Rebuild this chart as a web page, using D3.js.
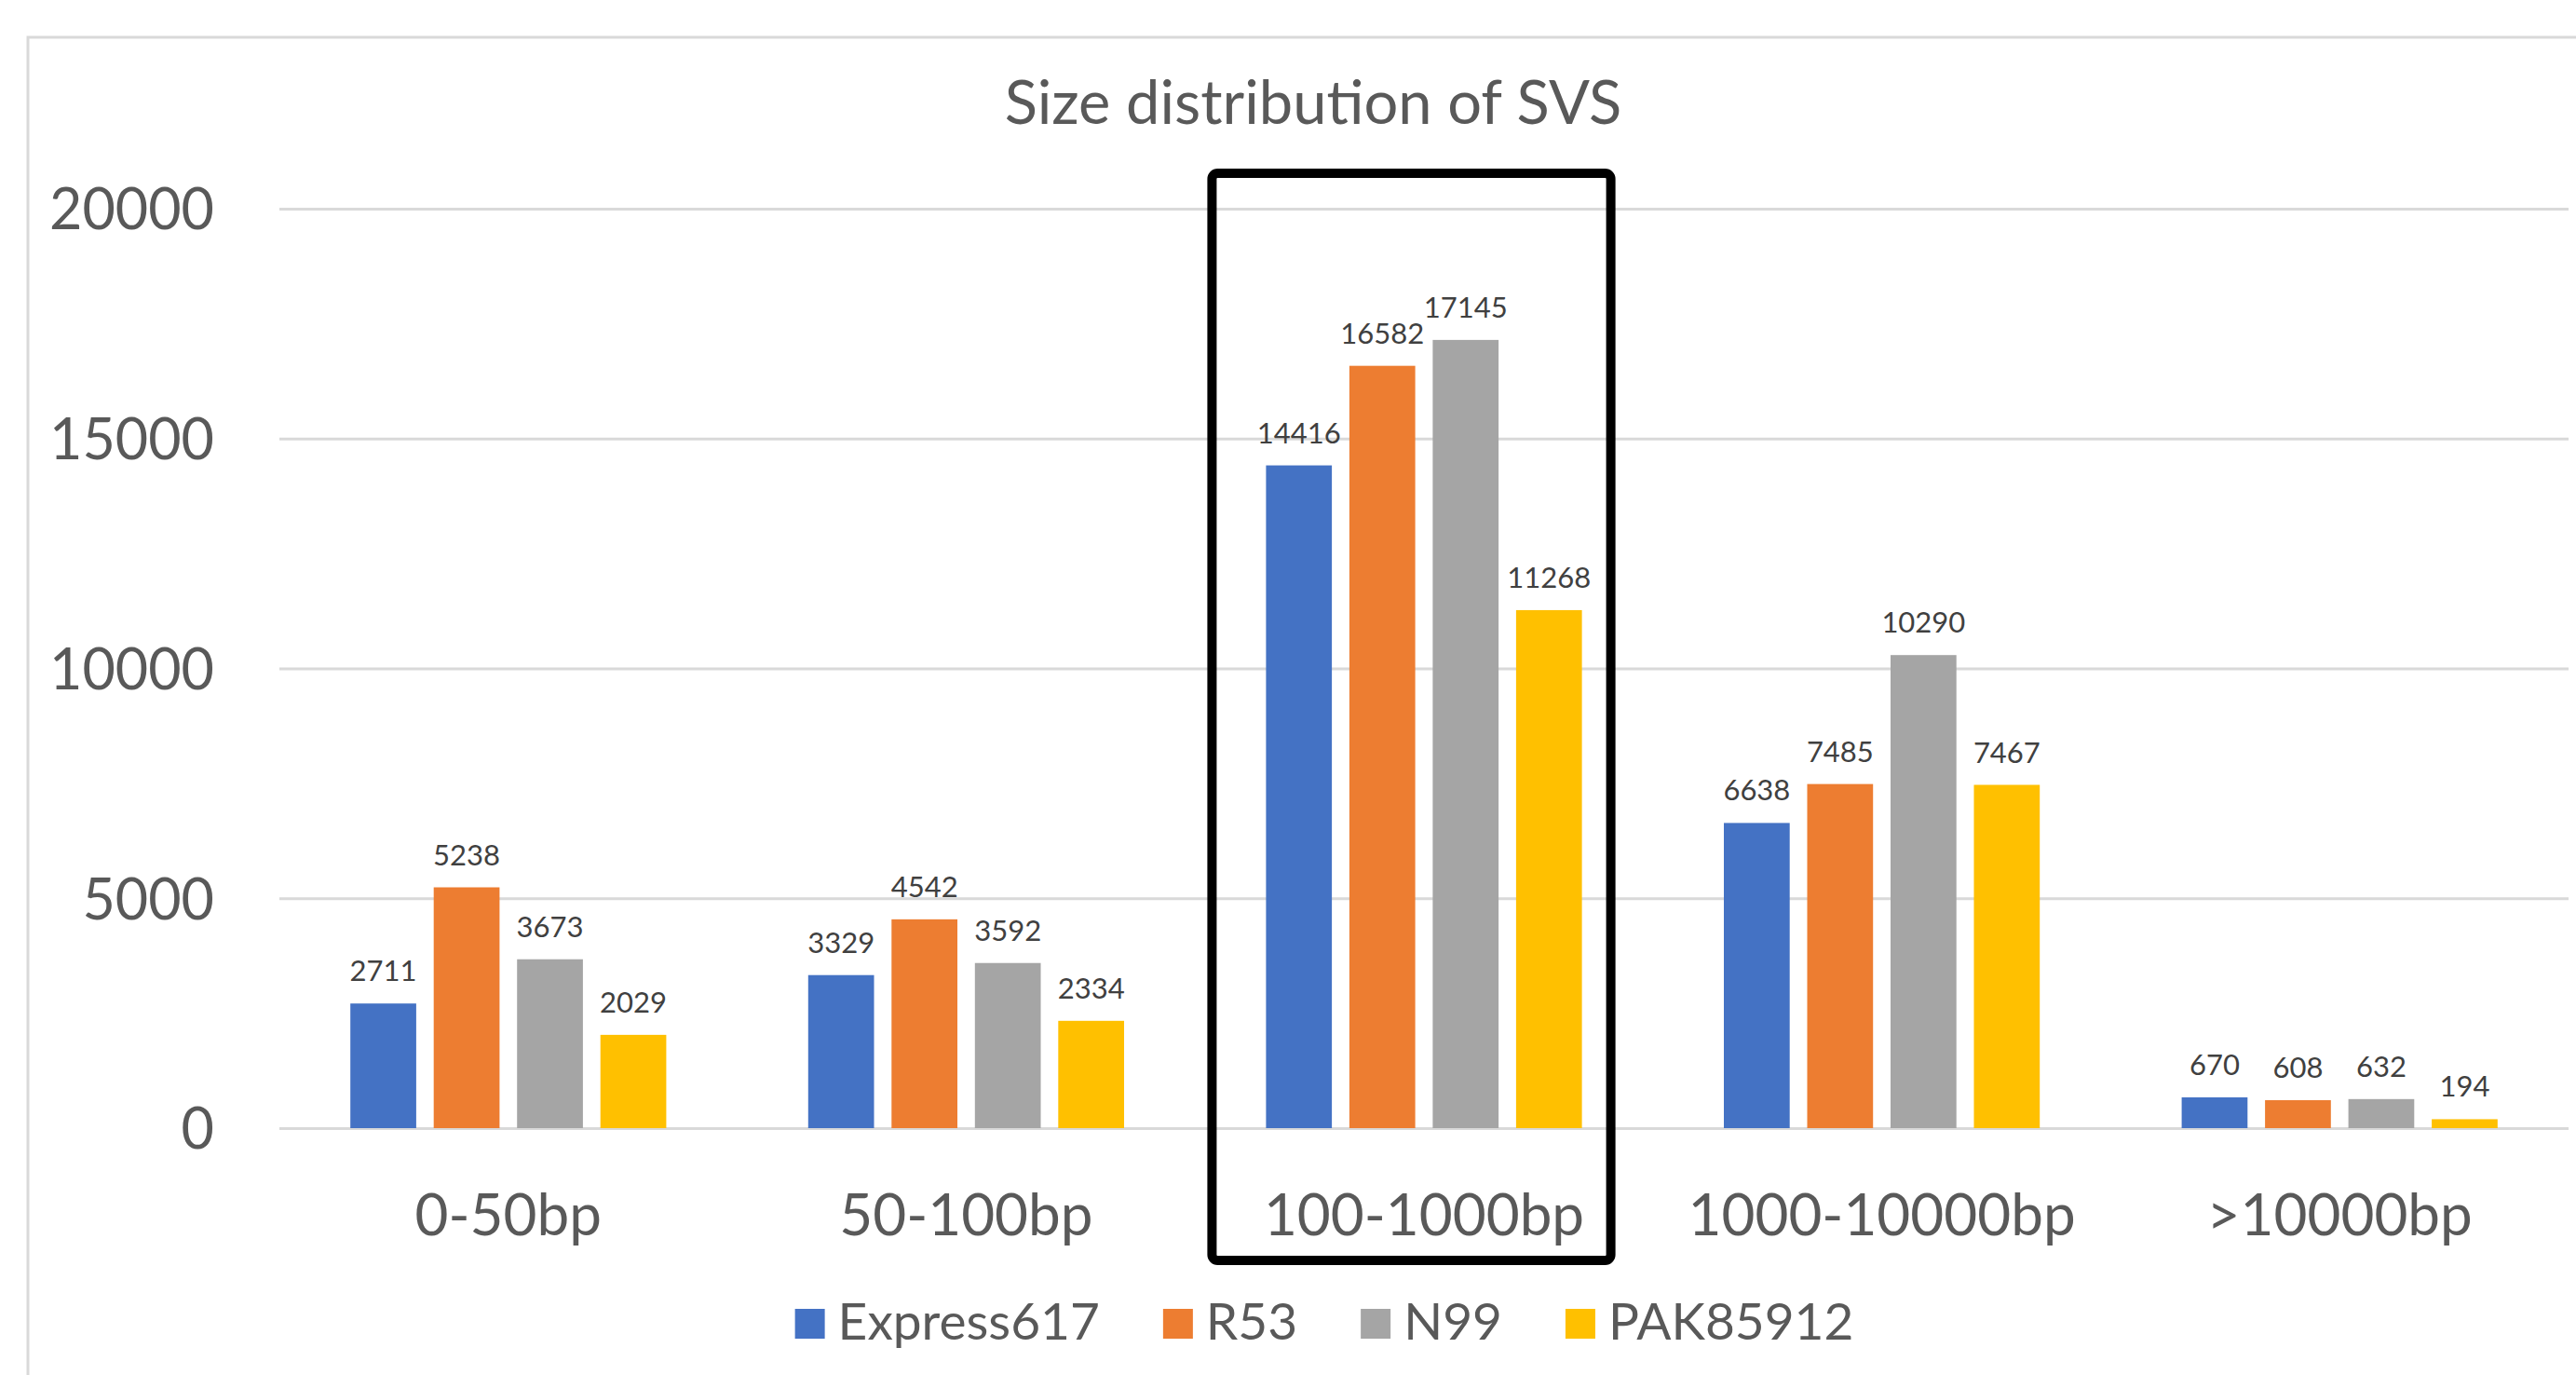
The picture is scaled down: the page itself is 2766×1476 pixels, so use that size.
<!DOCTYPE html>
<html>
<head>
<meta charset="utf-8">
<script src="https://cdn.jsdelivr.net/npm/d3@7"></script>
<style>
  html, body { margin: 0; padding: 0; background: #ffffff; }
  svg { display: block; font-family: Lato, "Open Sans", sans-serif; }
</style>
</head>
<body>
<svg id="chart" width="2766" height="1476"></svg>
<script>
// ---- data ----
const categories = ["0-50bp", "50-100bp", "100-1000bp", "1000-10000bp", ">10000bp"];
const seriesNames = ["Express617", "R53", "N99", "PAK85912"];
const express617 = [2711, 3329, 14416, 6638, 670];
const r53        = [5238, 4542, 16582, 7485, 608];
const n99        = [3673, 3592, 17145, 10290, 632];
const pak85912   = [2029, 2334, 11268, 7467, 194];
const yTicks     = [0, 5000, 10000, 15000, 20000];
const titleText  = "Size distribution of SVS";
const highlighted = "100-1000bp";

const seriesValues = [express617, r53, n99, pak85912];
const colors = ["#4472C4", "#ED7D31", "#A5A5A5", "#FFC000"];

// ---- layout ----
const svg = d3.select("#chart");
const textColor = "#595959";

// outer chart border (extends beyond right/bottom edges)
svg.append("rect")
  .attr("x", 30).attr("y", 40)
  .attr("width", 2800).attr("height", 1500)
  .attr("fill", "none").attr("stroke", "#d9d9d9").attr("stroke-width", 3);

const x0 = d3.scaleBand().domain(categories).range([300, 2758])
  .paddingInner(0.31).paddingOuter(0.155);
const x1 = d3.scaleBand().domain(seriesNames).range([0, x0.bandwidth()])
  .paddingInner(0.21).paddingOuter(0);
const y = d3.scaleLinear().domain([0, 20000]).range([1211, 224]);

// title
svg.append("text")
  .attr("x", 1410).attr("y", 133)
  .attr("text-anchor", "middle")
  .attr("font-size", 65)
  .attr("fill", textColor)
  .text(titleText);

// gridlines + y labels via axis
const yAxis = d3.axisLeft(y).tickValues(yTicks).tickSize(-(2758 - 300)).tickPadding(70)
  .tickFormat(d3.format("d"));
const gy = svg.append("g").attr("transform", "translate(300,0)").call(yAxis);
gy.select(".domain").remove();
gy.selectAll(".tick line").attr("stroke", "#d9d9d9").attr("stroke-width", 3);
gy.selectAll(".tick text")
  .attr("font-size", 61)
  .attr("font-family", "Lato, sans-serif")
  .attr("fill", textColor)
  .attr("dy", "0.36em");

// bars
const groups = svg.append("g").selectAll("g")
  .data(categories)
  .join("g")
  .attr("transform", d => `translate(${x0(d)},0)`);

groups.selectAll("rect")
  .data((c, ci) => seriesNames.map((s, si) => ({ s, si, v: seriesValues[si][ci] })))
  .join("rect")
  .attr("x", d => x1(d.s))
  .attr("width", x1.bandwidth())
  .attr("y", d => y(d.v))
  .attr("height", d => y(0) - y(d.v))
  .attr("fill", d => colors[d.si]);

groups.selectAll("text.val")
  .data((c, ci) => seriesNames.map((s, si) => ({ s, si, v: seriesValues[si][ci] })))
  .join("text")
  .attr("class", "val")
  .attr("x", d => x1(d.s) + x1.bandwidth() / 2)
  .attr("y", d => y(d.v) - 24)
  .attr("text-anchor", "middle")
  .attr("font-size", 31)
  .attr("fill", "#404040")
  .text(d => d.v);

// x axis labels
const xAxis = d3.axisBottom(x0).tickSize(0).tickPadding(0);
const gx = svg.append("g").attr("transform", "translate(0,1211)").call(xAxis);
gx.select(".domain").remove();
gx.selectAll(".tick text")
  .attr("font-size", 62)
  .attr("font-family", "Lato, sans-serif")
  .attr("fill", textColor)
  .attr("dy", null)
  .attr("y", 115);

// highlight box around 100-1000bp
const hx = x0(highlighted);
svg.append("rect")
  .attr("x", hx - 58).attr("y", 186)
  .attr("width", x0.bandwidth() + 89).attr("height", 1353 - 186)
  .attr("rx", 6).attr("ry", 6)
  .attr("fill", "none").attr("stroke", "#000").attr("stroke-width", 10);

// legend
const legend = svg.append("g");
const sw = 32, gapText = 14, gapEntry = 68;
const items = legend.selectAll("g").data(seriesNames).join("g");
items.append("rect")
  .attr("width", sw).attr("height", sw)
  .attr("y", 1405)
  .attr("fill", (d, i) => colors[i]);
items.append("text")
  .attr("x", sw + gapText).attr("y", 1438)
  .attr("font-size", 55)
  .attr("fill", textColor)
  .text(d => d);
let widths = [];
items.each(function() { widths.push(this.getBBox().width); });
const total = d3.sum(widths) + gapEntry * (widths.length - 1);
let cx = 1422 - total / 2;
items.attr("transform", (d, i) => {
  const t = `translate(${cx},0)`;
  cx += widths[i] + gapEntry;
  return t;
});
</script>
</body>
</html>
